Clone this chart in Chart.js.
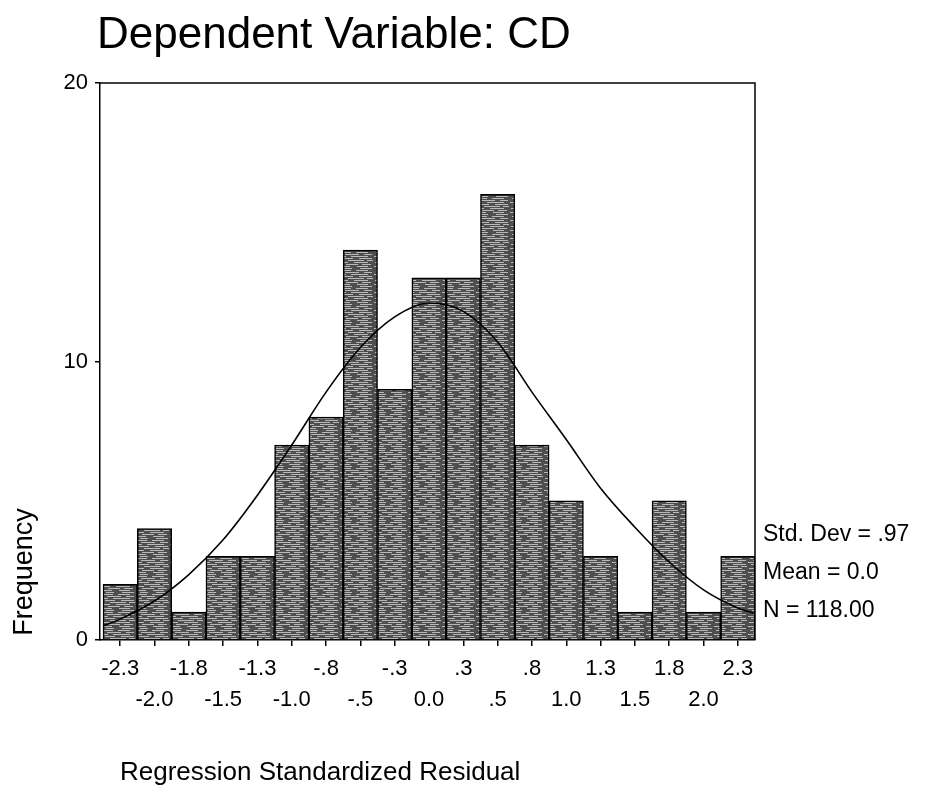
<!DOCTYPE html>
<html>
<head>
<meta charset="utf-8">
<script src="https://cdn.jsdelivr.net/npm/chart.js@4.4.1/dist/chart.umd.min.js"></script>
<style>
  html, body { margin: 0; padding: 0; background: #fff; }
  #wrap { width: 925px; height: 800px; }
</style>
</head>
<body>
<div id="wrap"><canvas id="histChart" width="925" height="800"></canvas></div>
<script>
// histogram bins (width .25) and their counts
const binCenters = [-2.25, -2.0, -1.75, -1.5, -1.25, -1.0, -0.75, -0.5, -0.25, 0.0, 0.25, 0.5, 0.75, 1.0, 1.25, 1.5, 1.75, 2.0, 2.25];
const frequencies = [2, 4, 1, 3, 3, 7, 8, 14, 9, 13, 13, 16, 7, 5, 3, 1, 5, 1, 3];
const binLabels = ['-2.3', '-2.0', '-1.8', '-1.5', '-1.3', '-1.0', '-.8', '-.5', '-.3', '0.0', '.3', '.5', '.8', '1.0', '1.3', '1.5', '1.8', '2.0', '2.3'];

// normal curve
const curveX = [-2.375, -2.25, -2.0, -1.75, -1.5, -1.25, -1.0, -0.75, -0.5, -0.25, 0.0, 0.25, 0.5, 0.75, 1.0, 1.25, 1.5, 1.75, 2.0, 2.25, 2.375];
const curveY = [0.5, 0.75, 1.4, 2.35, 3.6, 5.2, 7.0, 8.9, 10.5, 11.6, 12.1, 11.8, 10.7, 8.9, 7.2, 5.45, 4.05, 2.8, 1.8, 1.15, 0.95];

const yTicks = [0, 10, 20];
const titleText = 'Dependent Variable: CD';
const xTitle = 'Regression Standardized Residual';
const yTitle = 'Frequency';
const statLines = ['Std. Dev = .97', 'Mean = 0.0', 'N = 118.00'];

const FONT = '"Liberation Sans", Arial, sans-serif';

// scanned-looking bar fill: dark grey with light streaks
function makeBarPattern() {
  const c = document.createElement('canvas');
  c.width = 34;
  c.height = 18;
  const g = c.getContext('2d');
  g.fillStyle = '#4e4e4e';
  g.fillRect(0, 0, c.width, c.height);
  g.fillStyle = '#b8b8b8';
  const rows = [[0, 2, 9], [0, 16, 12], [2, 5, 14], [2, 24, 8], [4, 0, 6], [4, 11, 17],
    [6, 3, 10], [6, 19, 13], [8, 8, 16], [8, 27, 6], [10, 1, 7], [10, 14, 14],
    [12, 6, 12], [12, 22, 9], [14, 0, 10], [14, 17, 11], [16, 4, 8], [16, 20, 12]];
  rows.forEach(([y, x, w]) => g.fillRect(x, y, w, 1));
  return c.getContext('2d').createPattern(c, 'repeat');
}

const chartDecor = {
  id: 'chartDecor',
  afterDraw(chart) {
    const ctx = chart.ctx;
    const a = chart.chartArea;
    ctx.save();
    // frame: top and right edges
    ctx.strokeStyle = '#000';
    ctx.lineWidth = 1.5;
    ctx.beginPath();
    ctx.moveTo(a.left, a.top);
    ctx.lineTo(a.right, a.top);
    ctx.lineTo(a.right, a.bottom);
    ctx.stroke();

    ctx.fillStyle = '#000';
    ctx.textBaseline = 'alphabetic';
    ctx.textAlign = 'left';
    ctx.font = '44px ' + FONT;
    ctx.fillText(titleText, 97, 48);

    ctx.font = '26px ' + FONT;
    ctx.fillText(xTitle, 120, 780);

    ctx.font = '23px ' + FONT;
    ctx.textBaseline = 'middle';
    [535, 573, 611].forEach((y, i) => ctx.fillText(statLines[i], 763, y));

    ctx.save();
    ctx.translate(25, 572);
    ctx.rotate(-Math.PI / 2);
    ctx.textAlign = 'center';
    ctx.font = '27px ' + FONT;
    ctx.fillText(yTitle, 0, 0);
    ctx.restore();
    ctx.restore();
  }
};

const ctx = document.getElementById('histChart').getContext('2d');
const chart = new Chart(ctx, {
  type: 'bar',
  data: {
    datasets: [
      {
        type: 'line',
        data: curveX.map((x, i) => ({ x: x, y: curveY[i] })),
        borderColor: '#000',
        borderWidth: 1.6,
        pointRadius: 0,
        cubicInterpolationMode: 'monotone',
        fill: false,
        order: 0
      },
      {
        type: 'bar',
        data: binCenters.map((x, i) => ({ x: x, y: frequencies[i] })),
        backgroundColor: makeBarPattern(),
        borderColor: '#000',
        borderWidth: 1.5,
        barPercentage: 1.0,
        categoryPercentage: 1.0,
        order: 1
      }
    ]
  },
  options: {
    responsive: false,
    animation: false,
    layout: { padding: { top: 83, right: 170, bottom: 90, left: 0 } },
    plugins: {
      legend: { display: false },
      tooltip: { enabled: false },
      title: { display: false }
    },
    scales: {
      x: {
        type: 'linear',
        offset: false,
        min: -2.397,
        max: 2.375,
        afterFit(scale) { scale.height = 70; },
        afterBuildTicks(scale) { scale.ticks = binCenters.map(v => ({ value: v })); },
        grid: { drawOnChartArea: false, drawTicks: true, tickLength: 6, tickColor: '#000', lineWidth: 1.5, offset: false },
        border: { display: true, color: '#000', width: 1.5 },
        ticks: {
          autoSkip: false,
          maxRotation: 0,
          padding: 8,
          color: '#000',
          font: { family: FONT, size: 22, lineHeight: 1.4 },
          callback(value) {
            const i = binCenters.indexOf(value);
            if (i < 0) return '';
            return i % 2 === 0 ? [binLabels[i], ''] : ['', binLabels[i]];
          }
        }
      },
      y: {
        min: 0,
        max: 20,
        afterFit(scale) { scale.width = 100; },
        afterBuildTicks(scale) { scale.ticks = yTicks.map(v => ({ value: v })); },
        grid: { drawOnChartArea: false, drawTicks: true, tickLength: 5, tickColor: '#000', lineWidth: 1.5 },
        border: { display: true, color: '#000', width: 1.5 },
        ticks: {
          padding: 7,
          color: '#000',
          font: { family: FONT, size: 22 }
        }
      }
    }
  },
  plugins: [chartDecor]
});
</script>
</body>
</html>
